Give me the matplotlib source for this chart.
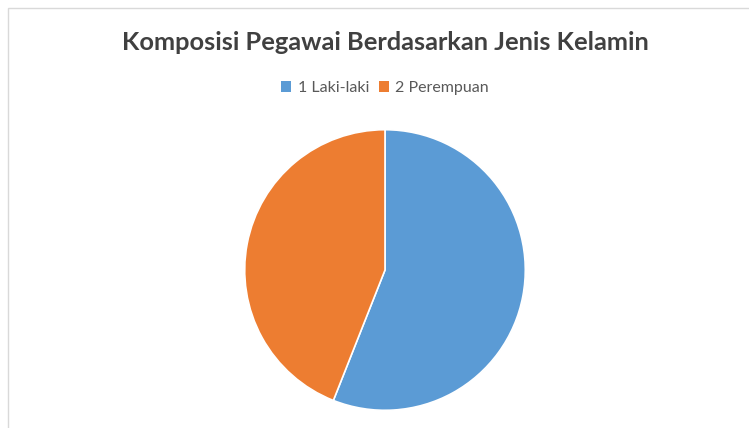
import matplotlib
matplotlib.use('Agg')
import matplotlib.pyplot as plt
from matplotlib.patches import Rectangle, Patch

# data
labels = ['1 Laki-laki', '2 Perempuan']
values = [56, 44]
colors = ['#5B9BD5', '#ED7D31']
title = 'Komposisi Pegawai Berdasarkan Jenis Kelamin'

W, H = 749, 428
fig = plt.figure(figsize=(W / 100, H / 100), dpi=100)
fig.patch.set_facecolor('white')

# light chart border (cropped on right/bottom)
fig.add_artist(Rectangle((8 / W, -0.05), 1.2, 1 - 8 / H + 0.05, transform=fig.transFigure,
                         fill=False, edgecolor='#D9D9D9', linewidth=1))

# pie
cx, cy, r = 385, 270, 141
ax = fig.add_axes([(cx - r) / W, (H - cy - r) / H, 2 * r / W, 2 * r / H])
ax.pie(values, colors=colors, startangle=90, counterclock=False,
       wedgeprops=dict(edgecolor='white', linewidth=1.2))
ax.set_xlim(-1.005, 1.005)
ax.set_ylim(-1.005, 1.005)
ax.set_aspect('auto')
ax.axis('off')

fig.text(cx / W, 1 - 42 / H, title, ha='center', va='center',
         fontsize=18.3, fontweight='bold', color='#404040', family='Lato')

handles = [Patch(facecolor=c, edgecolor='none') for c in colors]
fig.legend(handles, labels, loc='center', bbox_to_anchor=(cx / W, 1 - 88 / H), ncol=2,
           frameon=False, handlelength=0.65, handleheight=0.65, handletextpad=0.4,
           columnspacing=0.6, prop={'family': 'Lato', 'size': 11.5}, labelcolor='#595959')

fig.savefig('out.png', dpi=100)
